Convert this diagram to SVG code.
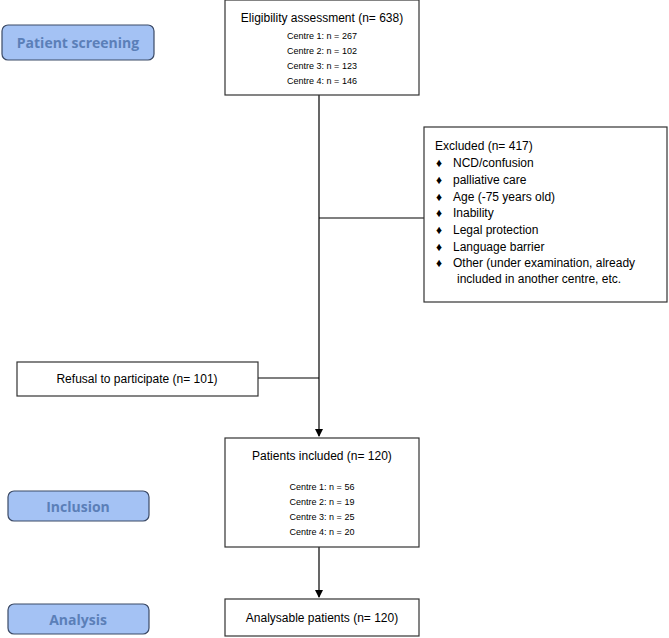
<svg xmlns="http://www.w3.org/2000/svg" width="669" height="638" viewBox="0 0 669 638">
<style>
.box{fill:#fff;stroke:#333;stroke-width:1.2}
.pill{fill:#a4c2f4;stroke:#3b4a66;stroke-width:1.2}
.pt{font-family:"Open Sans","Noto Sans",sans-serif;font-weight:bold;font-size:14px;fill:#5b7fb8;text-anchor:middle}
.t{font-family:"Liberation Sans",Arial,sans-serif;font-size:12px;fill:#000}
.s{font-family:"Liberation Sans",Arial,sans-serif;font-size:9px;fill:#000;text-anchor:middle}
.c{text-anchor:middle}
.ln{stroke:#000;stroke-width:1.2;fill:none}
</style>
<defs><marker id="ar" markerWidth="8" markerHeight="8" refX="7" refY="4" orient="auto" markerUnits="userSpaceOnUse"><path d="M0,0L8,4L0,8z" fill="#000"/></marker></defs>
<g id="connectors">
<path class="ln" d="M319,95V436" marker-end="url(#ar)"/>
<path class="ln" d="M319,218H424"/>
<path class="ln" d="M258,378H319"/>
<path class="ln" d="M319,547V597" marker-end="url(#ar)"/>
</g>
<g id="screening"><rect class="pill" x="2" y="25" width="152" height="35" rx="6"/><text class="pt" x="78" y="48">Patient screening</text></g>
<g id="inclusion"><rect class="pill" x="8" y="491" width="141" height="30" rx="6"/><text class="pt" x="78" y="512">Inclusion</text></g>
<g id="analysis"><rect class="pill" x="8" y="604" width="141" height="30" rx="6"/><text class="pt" x="78" y="625">Analysis</text></g>
<g id="eligibility"><rect class="box" x="225" y="0" width="194" height="95"/>
<text class="t c" x="322" y="22">Eligibility assessment (n= 638)</text>
<text class="s" x="322" y="39">Centre 1: n = 267</text>
<text class="s" x="322" y="54">Centre 2: n = 102</text>
<text class="s" x="322" y="69">Centre 3: n = 123</text>
<text class="s" x="322" y="84">Centre 4: n = 146</text></g>
<g id="excluded"><rect class="box" x="424" y="127" width="243" height="175"/>
<text class="t" x="435" y="150">Excluded (n= 417)</text>
<g class="t">
<text x="436" y="167">♦</text><text x="453" y="167">NCD/confusion</text>
<text x="436" y="184">♦</text><text x="453" y="184">palliative care</text>
<text x="436" y="201">♦</text><text x="453" y="201">Age (-75 years old)</text>
<text x="436" y="217">♦</text><text x="453" y="217">Inability</text>
<text x="436" y="234">♦</text><text x="453" y="234">Legal protection</text>
<text x="436" y="251">♦</text><text x="453" y="251">Language barrier</text>
<text x="436" y="267">♦</text><text x="453" y="267">Other (under examination, already</text>
<text x="457" y="283">included in another centre, etc.</text>
</g></g>
<g id="refusal"><rect class="box" x="17" y="362" width="241" height="34"/><text class="t c" x="137" y="383">Refusal to participate (n= 101)</text></g>
<g id="included"><rect class="box" x="225" y="438" width="194" height="109"/>
<text class="t c" x="322" y="460">Patients included (n= 120)</text>
<text class="s" x="322" y="490">Centre 1: n = 56</text>
<text class="s" x="322" y="505">Centre 2: n = 19</text>
<text class="s" x="322" y="520">Centre 3: n = 25</text>
<text class="s" x="322" y="535">Centre 4: n = 20</text></g>
<g id="analysable"><rect class="box" x="225" y="599" width="194" height="37"/><text class="t c" x="322" y="622">Analysable patients (n= 120)</text></g>
</svg>
